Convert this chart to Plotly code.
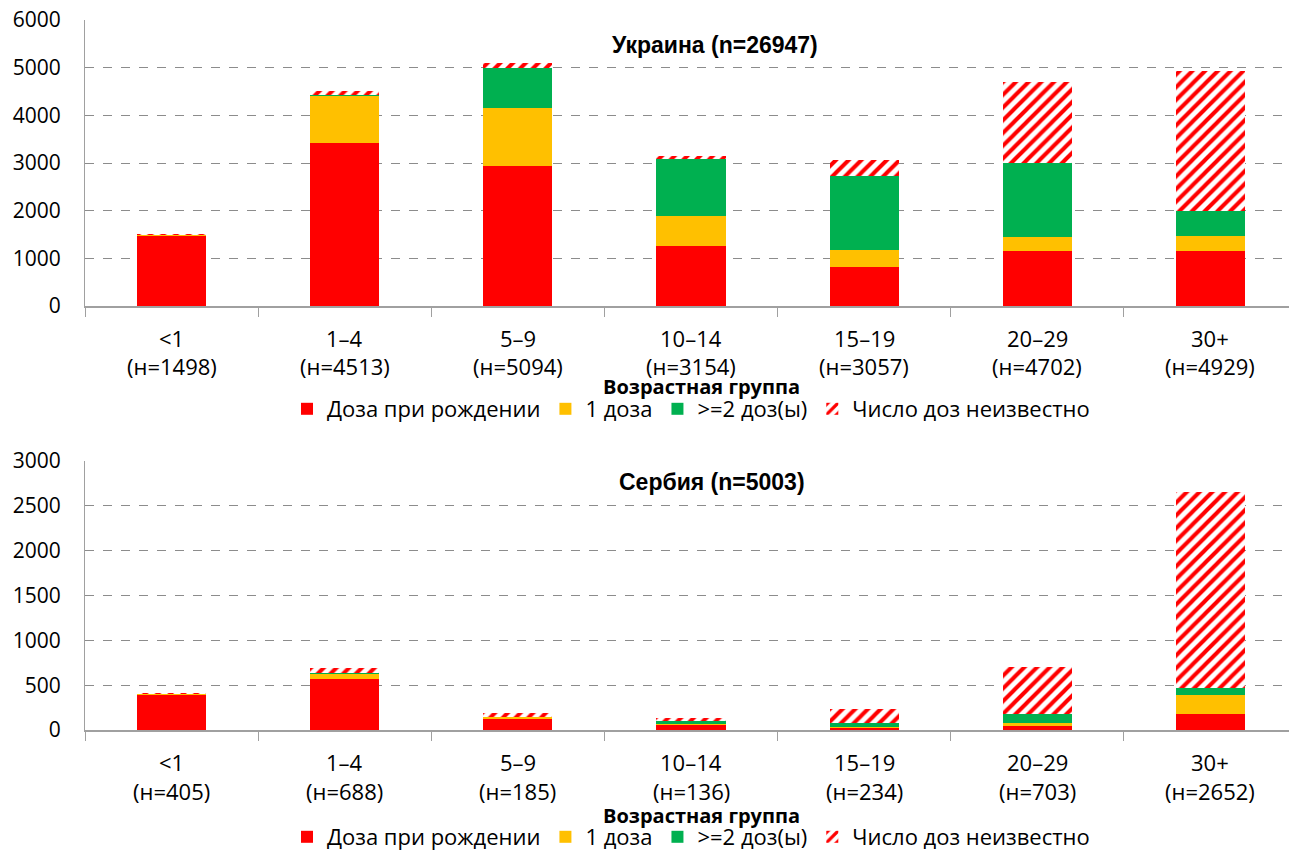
import plotly.graph_objects as go

age_groups = ["<1", "1–4", "5–9", "10–14", "15–19", "20–29", "30+"]

ua_n = [1498, 4513, 5094, 3154, 3057, 4702, 4929]
ua_birth = [1475, 3410, 2940, 1260, 820, 1160, 1160]
ua_one = [20, 1000, 1220, 620, 350, 280, 300]
ua_two = [0, 20, 830, 1200, 1560, 1560, 530]
ua_unknown = [3, 83, 104, 74, 327, 1702, 2939]

rs_n = [405, 688, 185, 136, 234, 703, 2652]
rs_birth = [400, 570, 130, 65, 25, 50, 180]
rs_one = [3, 65, 15, 3, 10, 30, 210]
rs_two = [0, 3, 2, 30, 45, 98, 80]
rs_unknown = [2, 50, 38, 38, 154, 525, 2182]

series_names = ["Доза при рождении", "1 доза", ">=2 доз(ы)", "Число доз неизвестно"]
colors = ["#FF0000", "#FFC000", "#00B050", "#FF0000"]

FONT = "Open Sans, Liberation Sans, sans-serif"
BFONT = "Liberation Sans, Arial, sans-serif"

# page is rendered with an 8px body margin: work in page pixels and convert
OFF = 8
W, H = 1297 - OFF, 853 - OFF
ML = 85 - OFF

fig = go.Figure()

def add_group(vals, xa, ya, legend):
    for i, (name, v) in enumerate(zip(series_names, vals)):
        if i < 3:
            marker = dict(color=colors[i], line=dict(width=0))
        else:
            marker = dict(color="white", line=dict(width=0),
                          pattern=dict(shape="/", fgcolor="#FF0000", bgcolor="white",
                                       size=9, solidity=0.45))
        fig.add_trace(go.Bar(x=age_groups, y=v, name=name, marker=marker,
                             xaxis=xa, yaxis=ya, legend=legend, width=0.4))

add_group([ua_birth, ua_one, ua_two, ua_unknown], "x", "y", "legend")
add_group([rs_birth, rs_one, rs_two, rs_unknown], "x2", "y2", "legend2")

def py(px):
    return (H - (px - OFF)) / H

def pxx(px):
    return (px - OFF - ML) / (W - ML)

axis_common_x = dict(showline=True, linecolor="#A0A0A0", linewidth=2, ticks="outside",
                     tickson="boundaries", ticklen=9, tickcolor="#A0A0A0", tickwidth=1,
                     showticklabels=False, showgrid=False, type="category",
                     categoryorder="array", categoryarray=age_groups, automargin=False)
axis_common_y = dict(showline=True, linecolor="#A0A0A0", linewidth=1, showgrid=True,
                     gridcolor="#8C8C8C", griddash="dash", gridwidth=1, ticks="",
                     tickfont=dict(family=FONT, size=21, color="black"),
                     ticklabelstandoff=19, ticklabeloverflow="allow",
                     zeroline=False, automargin=False)

legend_common = dict(orientation="h", x=0.5, xanchor="center", yanchor="middle",
                     font=dict(family=FONT, size=22), traceorder="normal", itemwidth=30)

fig.update_layout(
    width=W, height=H, template="none", barmode="stack",
    margin=dict(l=ML, r=0, t=0, b=0, autoexpand=False),
    paper_bgcolor="white", plot_bgcolor="white",
    font=dict(family=FONT, size=18, color="black"),
    xaxis=dict(domain=[0, 1], anchor="y", **axis_common_x),
    yaxis=dict(domain=[py(306), py(20)], anchor="x", range=[0, 6000], dtick=1000,
               **axis_common_y),
    xaxis2=dict(domain=[0, 1], anchor="y2", **axis_common_x),
    yaxis2=dict(domain=[py(730), py(461)], anchor="x2", range=[0, 3000], dtick=500,
                **axis_common_y),
    legend=dict(y=py(409), **legend_common),
    legend2=dict(y=py(837), **legend_common),
    bargap=0.6,
)

annotations = []
for xa, ns, y1, y2 in [("x", ua_n, 338, 366), ("x2", rs_n, 762, 791)]:
    for g, n in zip(age_groups, ns):
        annotations.append(dict(x=g, xref=xa, y=py(y1), yref="paper", text=g,
                                showarrow=False, yanchor="middle",
                                font=dict(family=FONT, size=22)))
        annotations.append(dict(x=g, xref=xa, y=py(y2), yref="paper", text=f"(н={n})",
                                showarrow=False, yanchor="middle",
                                font=dict(family=FONT, size=22)))

for yy in (386, 815):
    annotations.append(dict(x=pxx(701), xref="paper", y=py(yy), yref="paper",
                            text="<b>Возрастная группа</b>", showarrow=False, yanchor="middle",
                            font=dict(family=FONT, size=20)))
annotations.append(dict(x=pxx(715), xref="paper", y=py(45), yref="paper",
                        text="<b>Украина (n=26947)</b>", showarrow=False, yanchor="middle",
                        font=dict(family=BFONT, size=23)))
annotations.append(dict(x=pxx(712), xref="paper", y=py(482), yref="paper",
                        text="<b>Сербия (n=5003)</b>", showarrow=False, yanchor="middle",
                        font=dict(family=BFONT, size=23)))
fig.update_layout(annotations=annotations)

fig.write_html("out.html")
